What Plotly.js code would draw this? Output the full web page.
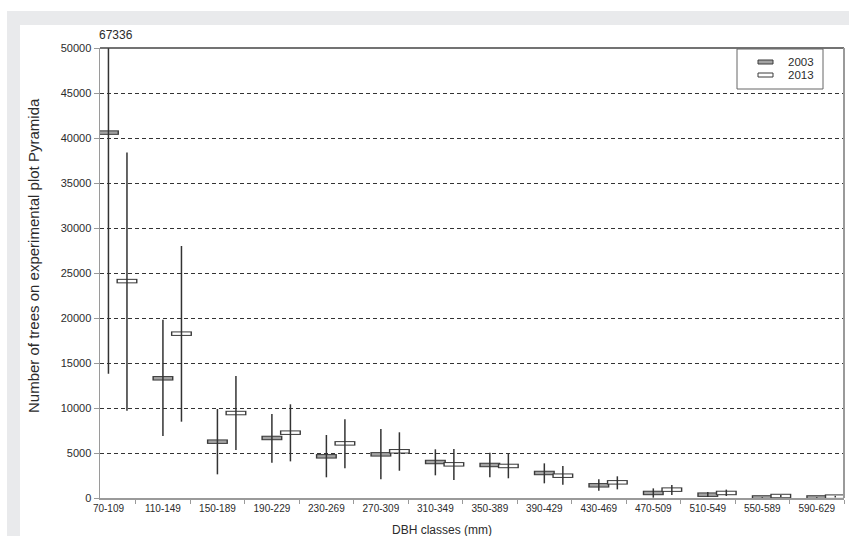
<!DOCTYPE html>
<html>
<head>
<meta charset="utf-8">
<script src="https://cdn.plot.ly/plotly-3.0.1.min.js"></script>
<style>
  html, body { margin: 0; padding: 0; background: #ffffff; overflow: hidden; }
  #wrap { position: relative; width: 849px; height: 536px; }
  #chart { position: absolute; left: 0; top: 0; width: 849px; height: 536px; }
  .band { position: absolute; background: #e9eaec; z-index: 5; }
</style>
</head>
<body>
<div id="wrap">
  <div id="chart"></div>
  <div class="band" style="left:7px; top:11px; width:842px; height:14px;"></div>
  <div class="band" style="left:7px; top:11px; width:13px; height:525px;"></div>
</div>
<script>
// ---- data ----
const categories = ['70-109','110-149','150-189','190-229','230-269','270-309','310-349',
                    '350-389','390-429','430-469','470-509','510-549','550-589','590-629'];
const years = ['2003', '2013'];

const value2003 = [40600, 13300, 6260, 6670, 4630, 4850, 4000, 3670, 2780, 1410, 560, 370, 60, 60];
const min2003   = [13800, 6900, 2630, 3930, 2300, 2070, 2520, 2300, 1630, 810, 40, 110, 20, 20];
const max2003   = [67336, 19800, 9890, 9330, 7000, 7670, 5410, 5030, 3850, 2070, 1070, 670, 100, 100];

const value2013 = [24100, 18260, 9440, 7260, 6070, 5190, 3740, 3560, 2480, 1740, 930, 560, 220, 150];
const min2013   = [9700, 8480, 5330, 4070, 3300, 3030, 2000, 2190, 1480, 960, 330, 220, 120, 60];
const max2013   = [38400, 28000, 13550, 10410, 8740, 7300, 5440, 4960, 3560, 2410, 1440, 930, 330, 240];

const yTicks = [0, 5000, 10000, 15000, 20000, 25000, 30000, 35000, 40000, 45000, 50000];

// ---- styling ----
const OFFSET_2013 = 0.34;
const FILL = { '2003': '#a3a3a3', '2013': '#ffffff' };
const EDGE = '#3a3a3a';
const FONT = 'Liberation Sans, Arial, sans-serif';
const TXT = '#2b2b2b';

const xIdx = categories.map((c, i) => i);
const xPos = { '2003': xIdx, '2013': xIdx.map(i => i + OFFSET_2013) };
const vals = { '2003': value2003, '2013': value2013 };
const mins = { '2003': min2003, '2013': min2013 };
const maxs = { '2003': max2003, '2013': max2013 };

const traces = [];
years.forEach(yr => {
  traces.push({
    type: 'scatter', mode: 'markers', x: xPos[yr], y: vals[yr], showlegend: false,
    marker: { symbol: 'line-ew', size: 15, line: { width: 4.5, color: EDGE } },
    hoverinfo: 'skip'
  });
  traces.push({
    type: 'scatter', mode: 'markers', x: xPos[yr], y: vals[yr], showlegend: false,
    marker: { symbol: 'line-ew', size: 13, line: { width: 2.5, color: FILL[yr] } },
    hoverinfo: 'skip'
  });
});
years.forEach(yr => {
  traces.push({
    type: 'scatter', mode: 'markers', x: xPos[yr], y: vals[yr], showlegend: false,
    marker: { size: 2, color: 'rgba(0,0,0,0)' },
    error_y: {
      type: 'data', symmetric: false,
      array: vals[yr].map((v, i) => maxs[yr][i] - v),
      arrayminus: vals[yr].map((v, i) => v - mins[yr][i]),
      width: 0, thickness: 1.5, color: '#333333'
    },
    hoverinfo: 'skip'
  });
});

// plot-area pixel helpers for decorations (legend box, titles)
const PL = 100, PR = 844, PT = 48, PB = 498;
const px = v => (v - PL) / (PR - PL);
const py = v => (PB - v) / (PB - PT);

const shapes = [
  // plot frame: top (dark) and right (grey)
  { type: 'line', xref: 'paper', yref: 'paper', x0: 0, x1: 1, y0: 1, y1: 1, line: { color: '#444', width: 1.5 } },
  { type: 'line', xref: 'paper', yref: 'paper', x0: 1, x1: 1, y0: 0, y1: 1, line: { color: '#9a9a9a', width: 2 } },
  // legend box
  { type: 'rect', xref: 'paper', yref: 'paper', x0: px(737), x1: px(823), y0: py(89), y1: py(49),
    line: { color: '#666', width: 1 }, fillcolor: '#ffffff' }
];
const legendRows = [62, 75];
years.forEach((yr, k) => {
  shapes.push({ type: 'rect', xref: 'paper', yref: 'paper',
    x0: px(758), x1: px(773), y0: py(legendRows[k] + 2), y1: py(legendRows[k] - 2),
    line: { color: EDGE, width: 1 }, fillcolor: FILL[yr] });
});

const annotations = [
  { xref: 'x', yref: 'paper', x: 0, y: py(35), text: String(max2003[0]), showarrow: false,
    xanchor: 'left', xshift: -11.5, yanchor: 'middle', font: { family: FONT, size: 12, color: TXT } },
  { xref: 'paper', yref: 'paper', x: px(33), y: py(256), text: 'Number of trees on experimental plot Pyramida',
    textangle: -90, showarrow: false, xanchor: 'center', yanchor: 'middle',
    font: { family: FONT, size: 15, color: TXT } },
  { xref: 'paper', yref: 'paper', x: px(442), y: py(530), text: 'DBH classes (mm)', showarrow: false,
    xanchor: 'center', yanchor: 'middle', font: { family: FONT, size: 12, color: TXT } }
];
years.forEach((yr, k) => {
  annotations.push({ xref: 'paper', yref: 'paper', x: px(787), y: py(legendRows[k]), text: yr,
    showarrow: false, xanchor: 'left', yanchor: 'middle', borderpad: 0,
    font: { family: FONT, size: 11.5, color: TXT } });
});

const layout = {
  width: 849, height: 536,
  margin: { l: PL, r: 849 - PR, t: PT, b: 536 - PB, pad: 0 },
  paper_bgcolor: '#ffffff', plot_bgcolor: '#ffffff',
  showlegend: false, hovermode: false,
  font: { family: FONT, color: TXT },
  xaxis: {
    range: [-0.155, 13.5], tickmode: 'array', tickvals: xIdx, ticktext: categories,
    ticks: '', showgrid: false, zeroline: false,
    showline: true, linecolor: '#9a9a9a', linewidth: 1.5,
    tickfont: { family: FONT, size: 10, color: TXT },
    minor: { tickmode: 'linear', tick0: 0.5, dtick: 1, ticks: 'outside', ticklen: 4,
             tickcolor: '#9a9a9a', tickwidth: 1, showgrid: false }
  },
  yaxis: {
    range: [0, 50000], tickmode: 'array', tickvals: yTicks, tickformat: 'd',
    ticks: 'outside', ticklen: 5, tickcolor: '#9a9a9a', tickwidth: 1,
    showgrid: true, gridcolor: '#333333', gridwidth: 1, griddash: '4px,3px',
    zeroline: false, showline: true, linecolor: '#9a9a9a', linewidth: 1.5,
    tickfont: { family: FONT, size: 11, color: TXT }
  },
  shapes: shapes,
  annotations: annotations
};

Plotly.newPlot('chart', traces, layout, { staticPlot: true, displayModeBar: false });
</script>
</body>
</html>
